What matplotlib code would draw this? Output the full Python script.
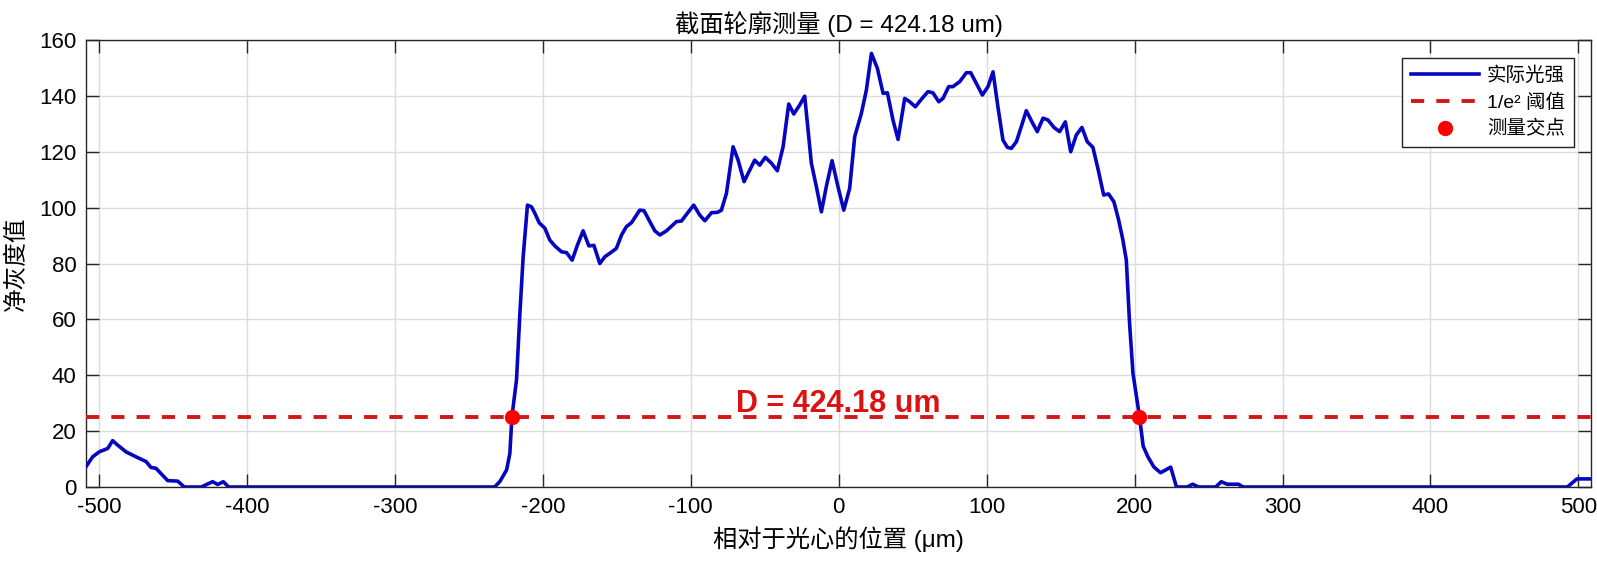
import numpy as np
import matplotlib
matplotlib.use('Agg')
import matplotlib.pyplot as plt

plt.rcParams['font.family'] = ['Liberation Sans', 'Noto Sans CJK SC']
plt.rcParams['axes.unicode_minus'] = False

# Perfil: posición (um) e intensidad neta
x_pos = [-508.8, -504.3, -499.8, -494.1, -490.8, -487.4, -481.8, -475.0, -468.2, -464.9,
         -461.5, -453.6, -446.8, -442.4, -431.0, -423.2, -419.8, -416.0, -412.4, -232.6,
         -229.0, -224.5, -222.3, -220.9, -217.8, -215.5, -213.3, -210.4, -207.7, -205.4,
         -202.5, -198.6, -195.3, -191.9, -187.4, -184.0, -180.2, -176.6, -172.8, -168.9,
         -165.5, -161.5, -158.1, -154.1, -150.3, -146.8, -143.5, -140.1, -137.4, -134.5,
         -131.6, -127.7, -124.3, -120.9, -116.4, -113.0, -109.7, -106.3, -102.3, -98.0,
         -93.9, -90.5, -86.0, -82.0, -79.3, -75.9, -71.4, -68.0, -64.0, -60.1,
         -56.8, -53.4, -49.6, -45.5, -41.5, -37.6, -33.8, -30.4, -26.4, -23.0,
         -18.5, -15.1, -11.7, -8.4, -4.5, -0.5, 3.4, 7.4, 10.8, 15.3,
         18.7, 22.1, 26.1, 30.0, 32.9, 36.7, 40.1, 44.6, 48.0, 51.8,
         55.9, 60.3, 63.7, 67.6, 70.5, 74.3, 77.2, 81.8, 86.3, 89.2,
         93.0, 97.1, 100.9, 104.3, 107.6, 111.0, 114.0, 116.7, 120.1, 123.4,
         126.8, 130.6, 134.2, 138.1, 141.4, 145.5, 149.3, 153.2, 156.8, 160.6,
         164.4, 168.0, 171.8, 175.2, 179.1, 182.4, 186.0, 189.2, 192.1, 194.4,
         196.6, 198.9, 203.3, 205.8, 209.0, 213.0, 217.5, 224.4, 228.3, 235.5,
         239.3, 243.2, 254.8, 258.6, 262.5, 270.2, 273.3, 492.5, 499.0, 508.5]
intensity = [7.3, 10.8, 12.6, 13.8, 16.6, 15.0, 12.6, 10.8, 9.1, 7.0,
             6.7, 2.3, 2.1, 0.0, 0.0, 1.9, 0.9, 1.9, 0.0, 0.0,
             2.0, 6.1, 12.0, 25.2, 38.3, 62.2, 82.4, 100.9, 100.3, 98.0,
             94.6, 92.6, 88.4, 86.3, 84.2, 83.9, 81.2, 86.6, 91.7, 86.3,
             86.5, 80.0, 82.4, 83.9, 85.4, 90.2, 93.2, 94.6, 96.8, 99.1,
             98.9, 95.0, 91.7, 90.2, 91.7, 93.4, 95.0, 95.2, 98.0, 100.9,
             97.3, 95.3, 98.2, 98.3, 99.1, 105.1, 121.8, 117.0, 109.3, 113.5,
             117.0, 115.2, 118.0, 115.9, 113.2, 121.8, 137.1, 133.5, 136.7, 139.9,
             115.9, 107.5, 98.5, 107.5, 116.8, 107.5, 99.1, 106.9, 125.4, 133.7,
             142.1, 155.2, 149.9, 140.9, 141.1, 131.3, 124.4, 139.1, 137.9, 136.1,
             138.8, 141.5, 141.1, 137.9, 139.1, 143.3, 143.3, 145.1, 148.3, 148.3,
             144.5, 140.3, 143.3, 148.6, 136.1, 124.2, 121.6, 121.2, 123.6, 129.0,
             134.7, 130.7, 127.2, 132.0, 131.4, 128.7, 127.2, 130.7, 120.0, 126.0,
             128.7, 123.6, 121.6, 114.0, 104.5, 104.9, 102.1, 95.6, 88.4, 81.2,
             58.6, 40.7, 25.2, 14.6, 10.8, 7.2, 5.1, 7.1, 0.0, 0.0,
             1.0, 0.0, 0.0, 1.9, 1.0, 1.0, 0.0, 0.0, 2.9, 2.9]

threshold = 25.2
cross_x = [-220.9, 203.28]
diameter = 424.18

fig = plt.figure(figsize=(15.97, 5.62), dpi=100)
ax = fig.add_axes([86 / 1597, 1 - 487 / 562, (1591 - 86) / 1597, (487 - 40) / 562])

ax.plot(x_pos, intensity, color='#0606c0', lw=2.6, label='实际光强', zorder=3)
ax.axhline(threshold, color='#d01818', lw=2.8, ls=(0, (3.4, 3.1)), label='1/e² 阈值', zorder=4)
ax.plot(cross_x, [threshold, threshold], 'o', color='#ff0000', ms=10, label='测量交点', zorder=5)

ax.text(0, threshold + 1.5, f'D = {diameter:.2f} um', color='#dd1111', fontsize=22,
        fontweight='bold', ha='center', va='baseline', zorder=2)

ax.set_xlim(x_pos[0], x_pos[-1])
ax.set_ylim(0, 160)
ax.set_xticks(np.arange(-500, 501, 100))
ax.set_yticks(np.arange(0, 161, 20))
ax.grid(True, color='#dcdcdc', lw=1)
ax.set_axisbelow(True)
ax.tick_params(direction='in', top=True, right=True, length=9.5, width=1,
               labelsize=16, pad=7, color='#262626')
for s in ax.spines.values():
    s.set_color('#262626')
    s.set_linewidth(1)

ax.set_title(f'截面轮廓测量 (D = {diameter:.2f} um)', fontsize=17.5, pad=6)
ax.set_xlabel('相对于光心的位置 (μm)', fontsize=17.5, labelpad=6)
ax.set_ylabel('净灰度值', fontsize=17, labelpad=8)

leg = ax.legend(loc='upper right', fontsize=14, handlelength=3.5, handletextpad=0.4,
                labelspacing=0.45, borderpad=0.45, borderaxespad=0.9, fancybox=False,
                framealpha=1, edgecolor='#222222')
leg.get_frame().set_linewidth(1)

fig.savefig('out.png', dpi=100)
